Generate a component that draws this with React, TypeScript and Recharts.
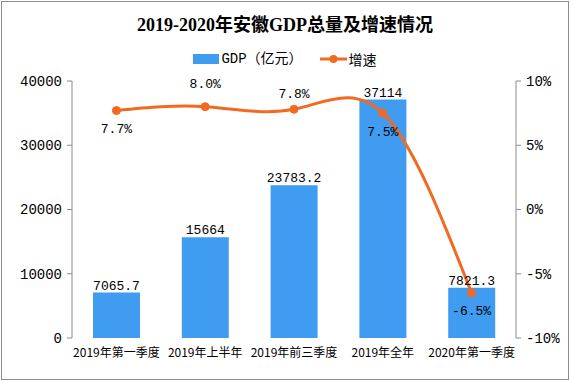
import { ComposedChart, Bar, Line, XAxis, YAxis, LabelList } from 'recharts'

const categories = ['2019年第一季度', '2019年上半年', '2019年前三季度', '2019年全年', '2020年第一季度']
const gdp = [7065.7, 15664, 23783.2, 37114, 7821.3]
const growth = [7.7, 8.0, 7.8, 7.5, -6.5]
const leftTicks = [0, 10000, 20000, 30000, 40000]
const rightTicks = [-10, -5, 0, 5, 10]
const boundaryTicks = [0, 1, 2, 3, 4, 5]

// label baseline offset from each growth point (Excel put some above, some below)
const growthLabelDy = [22, -19, -11, 23, 22]

const BLUE = '#3F9CF0'
const ORANGE = '#F26A21'
const AXIS = '#8C8C8C'
const MONO = '"Liberation Mono", "DejaVu Sans Mono", "Noto Sans CJK SC", monospace'
const CJK = '"Noto Sans CJK SC", "Noto Sans", sans-serif'

const data = categories.map((name, i) => ({ name, gdp: gdp[i], growth: growth[i], pos: i + 0.5 }))

function GrowthLabel(props: any) {
  const { x, y, value, index } = props
  return (
    <text x={x} y={y + growthLabelDy[index]} textAnchor="middle" fontSize={13} fontFamily={MONO} fill="#000">
      {value.toFixed(1)}%
    </text>
  )
}

export default function App() {
  return (
    <div style={{ position: 'absolute', left: 0, top: 0, width: 570, height: 381, background: '#fff' }}>
      <div
        style={{
          position: 'absolute',
          left: 1,
          top: 1,
          width: 566,
          height: 377,
          border: `1px solid ${AXIS}`,
        }}
      />
      <div
        style={{
          position: 'absolute',
          left: 0,
          top: 12,
          width: 570,
          textAlign: 'center',
          fontSize: 18,
          fontWeight: 'bold',
          fontFamily: '"Liberation Serif", "Noto Sans CJK SC", serif',
          lineHeight: '26px',
        }}
      >
        2019-2020年安徽GDP总量及增速情况
      </div>
      <div
        style={{
          position: 'absolute',
          left: 0,
          top: 49,
          width: 570,
          display: 'flex',
          justifyContent: 'center',
          alignItems: 'center',
          fontSize: 14,
          fontFamily: MONO,
          lineHeight: '20px',
        }}
      >
        <span style={{ display: 'inline-block', width: 26, height: 10, background: BLUE, marginRight: 2 }} />
        <span style={{ marginRight: 17 }}>GDP（亿元）</span>
        <svg width={27} height={10} style={{ marginRight: 2 }}>
          <line x1={0} y1={5} x2={27} y2={5} stroke={ORANGE} strokeWidth={3} />
          <circle cx={13.5} cy={5} r={4} fill={ORANGE} />
        </svg>
        <span style={{ fontFamily: CJK }}>增速</span>
      </div>
      <div style={{ position: 'absolute', left: 0, top: 0 }}>
        <ComposedChart width={570} height={381} data={data} margin={{ top: 81, right: 10, bottom: 13, left: 10 }}>
          <XAxis
            xAxisId="grid"
            type="number"
            dataKey="pos"
            domain={[0, 5]}
            ticks={boundaryTicks}
            tick={false}
            height={0}
            stroke={AXIS}
            tickSize={5}
          />
          <XAxis
            xAxisId="cat"
            dataKey="name"
            axisLine={false}
            tickLine={false}
            height={30}
            tickMargin={4}
            interval={0}
            tick={{ fontSize: 12, fill: '#000', fontFamily: CJK }}
          />
          <YAxis
            yAxisId="left"
            domain={[0, 40000]}
            ticks={leftTicks}
            width={62}
            stroke={AXIS}
            tickSize={5}
            tickMargin={5}
            tick={{ fontSize: 14, fill: '#000', fontFamily: MONO }}
          />
          <YAxis
            yAxisId="right"
            orientation="right"
            domain={[-10, 10]}
            ticks={rightTicks}
            width={44}
            stroke={AXIS}
            tickSize={5}
            tickMargin={5}
            tickFormatter={(v) => `${v}%`}
            tick={{ fontSize: 14, fill: '#000', fontFamily: MONO }}
          />
          <Bar xAxisId="cat" yAxisId="left" dataKey="gdp" fill={BLUE} barSize={47} isAnimationActive={false}>
            <LabelList dataKey="gdp" position="top" offset={3} fontSize={13} fontFamily={MONO} fill="#000" />
          </Bar>
          <Line
            xAxisId="cat"
            yAxisId="right"
            dataKey="growth"
            type="natural"
            stroke={ORANGE}
            strokeWidth={3}
            dot={{ r: 4, fill: ORANGE, stroke: ORANGE, strokeWidth: 1 }}
            activeDot={false}
            isAnimationActive={false}
          >
            <LabelList dataKey="growth" content={GrowthLabel} />
          </Line>
        </ComposedChart>
      </div>
    </div>
  )
}
